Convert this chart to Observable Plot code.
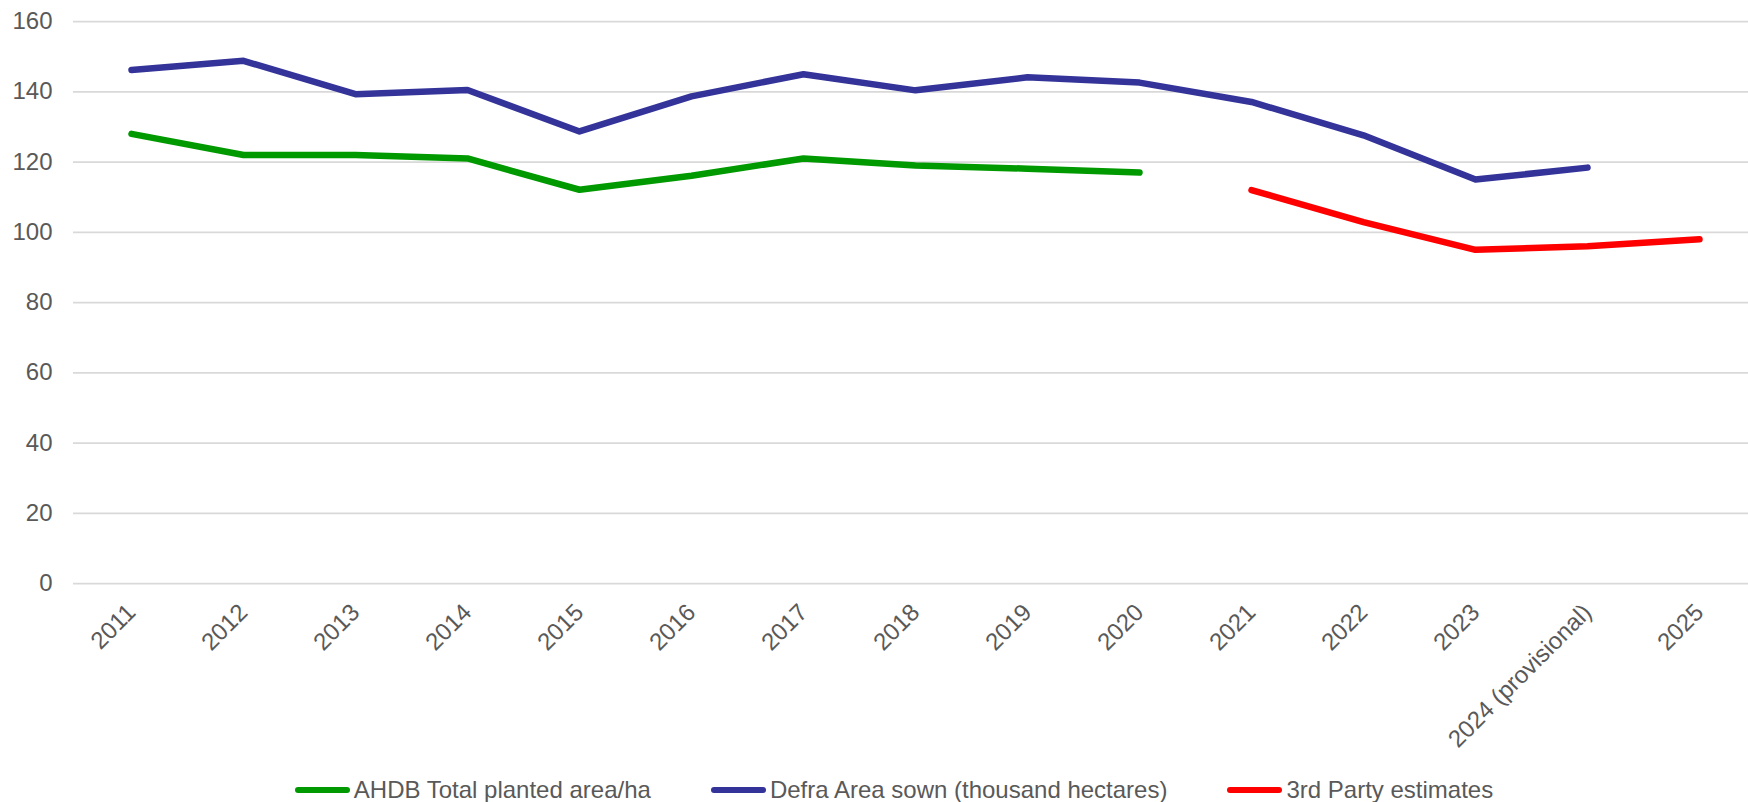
<!DOCTYPE html>
<html>
<head>
<meta charset="utf-8">
<script src="https://cdn.jsdelivr.net/npm/d3@7"></script>
<script src="https://cdn.jsdelivr.net/npm/@observablehq/plot@0.6"></script>
<style>
  html, body { margin: 0; padding: 0; background: #ffffff; overflow: hidden; }
  body { font-family: "Liberation Sans", Arial, sans-serif; }
  #legend {
    display: flex;
    justify-content: center;
    align-items: center;
    gap: 60px;
    height: 32px;
    padding-left: 40px;
    font-size: 24px;
    color: #595959;
  }
  .item { display: flex; align-items: center; white-space: nowrap; }
  .swatch { width: 55px; height: 6px; border-radius: 3px; margin-right: 4px; }
</style>
</head>
<body>
<div id="chart"></div>
<div id="legend"></div>
<script>
// Category labels along the x axis
const years = ["2011", "2012", "2013", "2014", "2015", "2016", "2017", "2018", "2019", "2020",
  "2021", "2022", "2023", "2024 (provisional)", "2025"];

// Series values (null = no figure for that year)
const ahdbPlanted = [128, 122, 122, 121, 112.1, 116.1, 121, 119, 118.1, 117,
  null, null, null, null, null];
const defraSown = [146.2, 148.8, 139.3, 140.5, 128.7, 138.7, 145, 140.4, 144.1, 142.6,
  137.1, 127.6, 115, 118.4, null];
const thirdParty = [null, null, null, null, null, null, null, null, null, null,
  112, 102.9, 95, 96, 98];

const seriesNames = ["AHDB Total planted area/ha", "Defra Area sown (thousand hectares)", "3rd Party estimates"];
const seriesColors = ["#009900", "#333399", "#ff0000"];
const yTicks = [0, 20, 40, 60, 80, 100, 120, 140, 160];

// Long-form table for the line marks
const seriesValues = [ahdbPlanted, defraSown, thirdParty];
const rows = [];
seriesValues.forEach((vals, s) => {
  vals.forEach((v, i) => {
    if (v != null) rows.push({series: seriesNames[s], year: years[i], value: v});
  });
});

const chart = Plot.plot({
  width: 1748,
  height: 774,
  marginTop: 21,
  marginLeft: 73,
  marginRight: 0,
  marginBottom: 191,
  style: {
    fontFamily: "'Liberation Sans', Arial, sans-serif",
    fontSize: "24px",
    color: "#595959",
    background: "#ffffff"
  },
  x: {type: "point", domain: years, range: [73, 1756], padding: 0.5, label: null},
  y: {domain: [0, 160], label: null},
  color: {domain: seriesNames, range: seriesColors},
  marks: [
    Plot.ruleY(yTicks, {stroke: "#d9d9d9", strokeWidth: 1.75}),
    Plot.axisY({ticks: yTicks, tickSize: 0, tickPadding: 21, label: null, fontSize: 24}),
    Plot.axisX({tickSize: 0, tickPadding: 25, tickRotate: -45, label: null, fontSize: 24}),
    Plot.line(rows, {
      x: "year",
      y: "value",
      z: "series",
      stroke: "series",
      strokeWidth: 6.5,
      strokeLinecap: "round",
      strokeLinejoin: "round"
    })
  ]
});
document.getElementById("chart").appendChild(chart);

// Legend below the chart
const legend = document.getElementById("legend");
seriesNames.forEach((name, i) => {
  const item = document.createElement("div");
  item.className = "item";
  const sw = document.createElement("span");
  sw.className = "swatch";
  sw.style.background = seriesColors[i];
  const label = document.createElement("span");
  label.textContent = name;
  item.appendChild(sw);
  item.appendChild(label);
  legend.appendChild(item);
});
</script>
</body>
</html>
